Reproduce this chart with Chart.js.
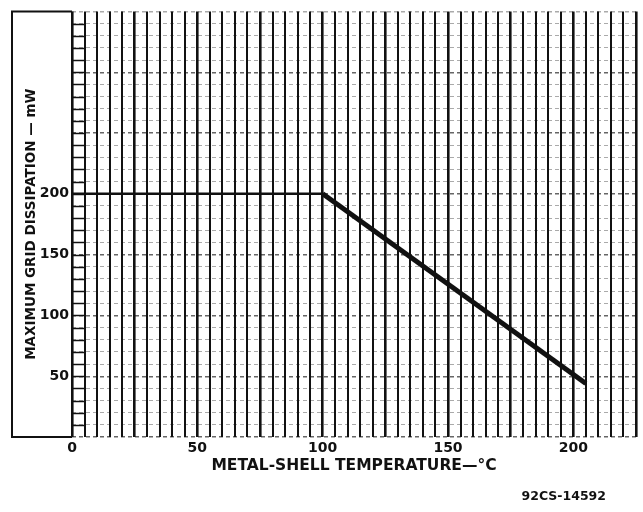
<!DOCTYPE html>
<html>
<head>
<meta charset="utf-8">
<script src="https://cdn.jsdelivr.net/npm/chart.js@4"></script>
<style>
  html, body { margin: 0; padding: 0; background: #fff; }
</style>
</head>
<body>
<canvas id="chart" width="643" height="512"></canvas>
<script>
// metal-shell temperature (°C) vs max grid dissipation (mW)
const temps = [0, 100, 205]
const dissipation = [200, 200, 44]
const xTickLabels = [0, 50, 100, 150, 200]
const yTickLabels = [50, 100, 150, 200]
const note = '92CS-14592'

const pts = temps.map((t, i) => ({ x: t, y: dissipation[i] }))
const font = 'DejaVu Sans, Verdana, sans-serif'

const decor = {
  id: 'decor',
  beforeDatasetsDraw(chart) {
    const { ctx, chartArea: a, scales: { x, y } } = chart
    ctx.save()
    ctx.strokeStyle = '#111'
    ctx.lineWidth = 1.5
    // solid rungs in the first column next to the axis
    for (let v = 10; v < 350; v += 10) {
      const py = Math.round(y.getPixelForValue(v)) + 0.5
      ctx.beginPath()
      ctx.moveTo(x.getPixelForValue(0), py)
      ctx.lineTo(x.getPixelForValue(5), py)
      ctx.stroke()
    }
    // bracket round the y title
    ctx.lineWidth = 2
    ctx.beginPath()
    ctx.moveTo(a.left, a.top)
    ctx.lineTo(12, a.top)
    ctx.lineTo(12, a.bottom)
    ctx.lineTo(a.left, a.bottom)
    ctx.stroke()
    ctx.restore()
  },
  afterDraw(chart) {
    const { ctx } = chart
    ctx.save()
    ctx.fillStyle = '#111'
    ctx.font = 'bold 12.5px ' + font
    ctx.textAlign = 'right'
    ctx.textBaseline = 'middle'
    ctx.fillText(note, 606, 497)
    ctx.restore()
  },
}

new Chart(document.getElementById('chart'), {
  type: 'line',
  data: {
    datasets: [
      {
        data: pts.slice(0, 2),
        borderColor: '#111',
        borderWidth: 2.5,
        pointRadius: 0,
      },
      {
        data: pts.slice(1),
        borderColor: '#111',
        borderWidth: 5,
        pointRadius: 0,
      },
    ],
  },
  options: {
    responsive: false,
    animation: false,
    layout: { padding: { left: 0, right: 7, top: 7, bottom: 0 } },
    plugins: {
      legend: { display: false },
      tooltip: { enabled: false },
    },
    scales: {
      y: {
        type: 'linear',
        min: 0,
        max: 350,
        afterFit: (s) => { s.width = 72 },
        grid: {
          drawTicks: false,
          color: (c) => (c.tick.value % 50 === 0 && c.tick.value < 350 ? '#666' : '#aaa'),
          lineWidth: (c) => (c.tick.value % 50 === 0 ? 1.4 : 1),
        },
        border: { display: false, dash: [4, 3] },
        ticks: {
          stepSize: 10,
          autoSkip: false,
          padding: 3,
          color: '#111',
          font: { family: font, size: 14, weight: 'bold' },
          callback: (v) => (yTickLabels.includes(v) ? String(v) : ''),
        },
        title: {
          display: true,
          text: 'MAXIMUM GRID DISSIPATION — mW',
          color: '#111',
          font: { family: font, size: 13.5, weight: 'bold' },
          padding: { top: 23, bottom: 0 },
        },
      },
      x: {
        type: 'linear',
        min: 0,
        max: 225,
        afterFit: (s) => { s.height = 75 },
        grid: {
          drawTicks: false,
          color: '#111',
          lineWidth: (c) => (c.tick.value % 25 === 0 ? 2.6 : 2),
        },
        border: { display: false },
        ticks: {
          stepSize: 5,
          autoSkip: false,
          maxRotation: 0,
          padding: 3,
          color: '#111',
          font: { family: font, size: 14, weight: 'bold' },
          callback: (v) => (xTickLabels.includes(v) ? String(v) : ''),
        },
        title: {
          display: true,
          text: 'METAL-SHELL TEMPERATURE—°C',
          color: '#111',
          font: { family: font, size: 15.5, weight: 'bold' },
          padding: { top: 0, bottom: 37 },
        },
      },
    },
  },
  plugins: [decor],
})
</script>
</body>
</html>
